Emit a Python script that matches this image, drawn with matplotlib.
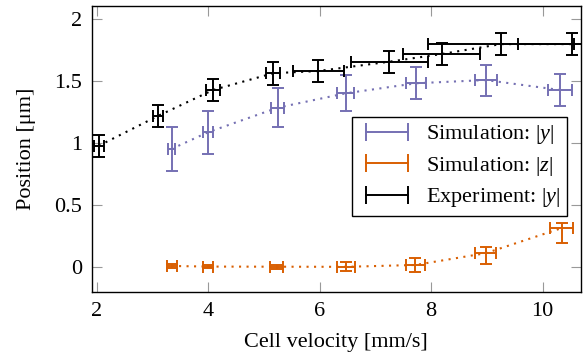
import matplotlib
matplotlib.use("Agg")
import matplotlib.pyplot as plt
from matplotlib.lines import Line2D
from matplotlib.ticker import FuncFormatter

# ---- data ----
exp_v = [2.04, 3.10, 4.09, 5.17, 5.98, 7.25, 8.19, 9.25, 10.52]
exp_y = [0.98, 1.22, 1.43, 1.565, 1.583, 1.658, 1.72, 1.80, 1.80]
exp_verr = [0.09, 0.095, 0.13, 0.125, 0.45, 0.69, 0.69, 1.31, 0.96]
exp_yerr = [0.088, 0.089, 0.089, 0.091, 0.09, 0.088, 0.087, 0.087, 0.087]

sim_v = [3.345, 4.0, 5.25, 6.47, 7.73, 8.98, 10.31]
sim_y = [0.954, 1.089, 1.287, 1.403, 1.484, 1.51, 1.43]
sim_yerr = [0.178, 0.172, 0.155, 0.145, 0.128, 0.125, 0.13]
sim_verr = [0.07, 0.09, 0.12, 0.15, 0.18, 0.2, 0.215]

simz_v = [3.345, 4.0, 5.23, 6.48, 7.72, 8.98, 10.34]
simz_z = [0.01, 0.005, 0.004, 0.003, 0.018, 0.113, 0.315]
simz_zerr_lo = [0.015, 0.015, 0.015, 0.036, 0.054, 0.087, 0.12]
simz_zerr_hi = [0.015, 0.015, 0.015, 0.036, 0.054, 0.053, 0.04]
simz_verr = [0.09, 0.09, 0.11, 0.16, 0.17, 0.19, 0.21]

xticks = [2, 4, 6, 8, 10]
yticks = [0, 0.5, 1, 1.5, 2]

purple = "#7570b3"
orange = "#d95f02"
black = "black"

plt.rcParams["font.family"] = ["Liberation Serif", "DejaVu Serif"]
plt.rcParams["mathtext.fontset"] = "custom"
plt.rcParams["mathtext.rm"] = "Liberation Serif"
plt.rcParams["mathtext.it"] = "Liberation Serif:italic"

fig = plt.figure(figsize=(5.83, 3.55), dpi=100)
ax = fig.add_axes([0.157, 0.1775, 0.8396, 0.8065])

dots = (0, (1, 2.6))
eb = dict(fmt="none", elinewidth=1.4, capsize=4, capthick=1.4)

# simulation |z|
ax.plot(simz_v, simz_z, ls=dots, color=orange, lw=1.5)
ax.errorbar(simz_v, simz_z, xerr=simz_verr, yerr=[simz_zerr_lo, simz_zerr_hi],
            ecolor=orange, **eb)

# simulation |y|
ax.plot(sim_v, sim_y, ls=dots, color=purple, lw=1.5)
ax.errorbar(sim_v, sim_y, xerr=sim_verr, yerr=sim_yerr, ecolor=purple, **eb)

# experiment |y|
ax.plot(exp_v, exp_y, ls=dots, color=black, lw=1.5)
ax.errorbar(exp_v, exp_y, xerr=exp_verr, yerr=exp_yerr, ecolor=black, **eb)

ax.set_xlim(1.91, 10.69)
ax.set_ylim(-0.2, 2.11)
ax.set_xticks(xticks)
ax.set_yticks(yticks)
ax.yaxis.set_major_formatter(FuncFormatter(lambda v, p: f"{v:g}"))
ax.tick_params(direction="in", length=7.5, width=0.8, color="#999999",
               top=True, right=True, labelsize=16, pad=7)
for s in ax.spines.values():
    s.set_linewidth(1.0)

ax.set_xlabel("Cell velocity [mm/s]", fontsize=16, labelpad=9)
ax.set_ylabel("Position [μm]", fontsize=16, labelpad=13)

handles = [
    Line2D([0, 1], [0, 0], color=purple, lw=1.4, marker="|", ms=13, mew=1.4),
    Line2D([0, 1], [0, 0], color=orange, lw=1.4, marker="|", ms=13, mew=1.4),
    Line2D([0, 1], [0, 0], color=black, lw=1.4, marker="|", ms=13, mew=1.4),
]
labels = ["Simulation: $|y|$", "Simulation: $|z|$", "Experiment: $|y|$"]
leg = ax.legend(handles, labels, loc="upper right", bbox_to_anchor=(0.971, 0.612),
                numpoints=2, fontsize=16, handlelength=2.5, fancybox=False,
                framealpha=1, edgecolor="black", borderpad=0.3, labelspacing=0.38,
                handletextpad=0.5, borderaxespad=0)
leg.get_frame().set_linewidth(1.0)

fig.savefig("out.png", dpi=100)
